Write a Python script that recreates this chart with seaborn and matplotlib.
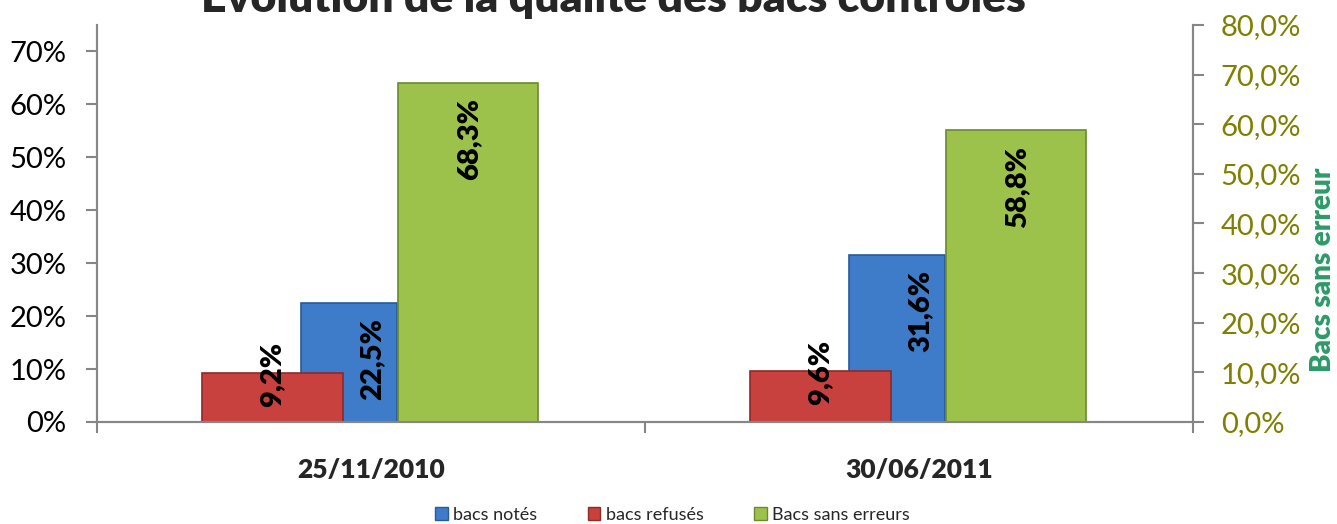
import numpy as np
import pandas as pd
import seaborn as sns
import matplotlib.pyplot as plt
from matplotlib.patches import Patch

sns.set_theme(style="white")
plt.rcParams['font.family'] = ['Lato', 'DejaVu Sans']

# donnees
dates = ["25/11/2010", "30/06/2011"]
bacs_notes = [22.5, 31.6]
bacs_refuses = [9.2, 9.6]
bacs_sans_erreurs = [68.3, 58.8]

rouge, bleu, vert = "#C9413F", "#3E7BC8", "#9DC24B"
gris = "#868686"

fig = plt.figure(figsize=(13.37, 5.24), dpi=100)
ax = fig.add_axes([0.0726, 0.1947, 0.8197, 0.7576])
ax2 = ax.twinx()


def barres(axe, valeurs, couleur, largeur, decalage, bord):
    n0 = len(axe.patches)
    df = pd.DataFrame({"date": dates, "val": valeurs})
    sns.barplot(data=df, x="date", y="val", ax=axe, color=couleur, width=largeur,
                edgecolor=bord, linewidth=1.2, saturation=1)
    for p in axe.patches[n0:]:
        p.set_x(p.get_x() + decalage)
    return axe.patches[n0:]


# bleu d'abord, rouge par-dessus
p_bleu = barres(ax, bacs_notes, bleu, 0.175, -0.04, "#2A5A98")
p_rouge = barres(ax, bacs_refuses, rouge, 0.257, -0.18, "#8E2A28")
p_vert = barres(ax2, bacs_sans_erreurs, vert, 0.255, 0.177, "#6A8A30")

ax.set_xlim(-0.5, 1.5)
ax.set_ylim(0, 75)
ax2.set_ylim(0, 80)

# etiquettes de valeurs
lab_kw = dict(rotation=90, fontsize=21, fontweight="heavy", color="black", ha="center")
for i in range(len(dates)):
    r = p_rouge[i]
    ax.text(r.get_x() + r.get_width() / 2, bacs_refuses[i] - 0.3,
            f"{bacs_refuses[i]:.1f}%".replace(".", ","), va="center", **lab_kw)
    b = p_bleu[i]
    xb = (r.get_x() + r.get_width() + b.get_x() + b.get_width()) / 2 + 0.005
    ax.text(xb, bacs_notes[i] - 2.9,
            f"{bacs_notes[i]:.1f}%".replace(".", ","), va="top", **lab_kw)
    g = p_vert[i]
    ax2.text(g.get_x() + g.get_width() / 2 + 0.003, bacs_sans_erreurs[i] - 3.1,
             f"{bacs_sans_erreurs[i]:.1f}%".replace(".", ","), va="top", **lab_kw)

# axes
for a in (ax, ax2):
    a.set_xlabel("")
    a.set_ylabel("")
    a.spines["top"].set_visible(False)
    for s in ("left", "right", "bottom"):
        a.spines[s].set_color(gris)
        a.spines[s].set_linewidth(1.5)

ax.set_yticks(np.arange(0, 71, 10))
ax.set_yticklabels([f"{v}%" for v in range(0, 71, 10)], fontsize=21, color="black")
ax.tick_params(axis="y", which="major", direction="out", length=8, width=1.5,
               color=gris, left=True, pad=14)

ax2.set_yticks(np.arange(0, 81, 10))
ax2.set_yticklabels([f"{v},0%" for v in range(0, 81, 10)], fontsize=21, color="#7F7F00")
ax2.tick_params(axis="y", direction="out", length=8, width=1.5, color=gris, right=True, pad=12)

ax.set_xticks([-0.5, 0.5, 1.5])
ax.set_xticklabels([])
ax.set_xticks([0, 1], minor=True)
ax.set_xticklabels(dates, minor=True, fontsize=19, fontweight="heavy")
ax.tick_params(axis="x", which="major", direction="out", length=8, width=1.5, color=gris, bottom=True)
ax.tick_params(axis="x", which="minor", length=0, pad=26)
ax2.tick_params(axis="x", bottom=False, labelbottom=False)

fig.text(0.9895, 0.485, "Bacs sans erreur", rotation=90, ha="center", va="center",
         fontsize=20, fontweight="heavy", color="#2E9A68")

fig.text(0.459, 1 - 12 / 524, "Évolution de la qualité des bacs contrôlés",
         ha="center", va="baseline", fontsize=32, fontweight="heavy")

poignees = [Patch(facecolor=bleu, edgecolor="#2A5A98"),
            Patch(facecolor=rouge, edgecolor="#8E2A28"),
            Patch(facecolor=vert, edgecolor="#6A8A30")]
fig.legend(poignees, ["bacs notés", "bacs refusés", "Bacs sans erreurs"],
           loc="center", bbox_to_anchor=(0.503, 0.018), ncol=3, frameon=False,
           fontsize=13, handlelength=0.7, handleheight=0.7, handletextpad=0.3,
           columnspacing=2.8)

fig.savefig("out.png", dpi=100)
